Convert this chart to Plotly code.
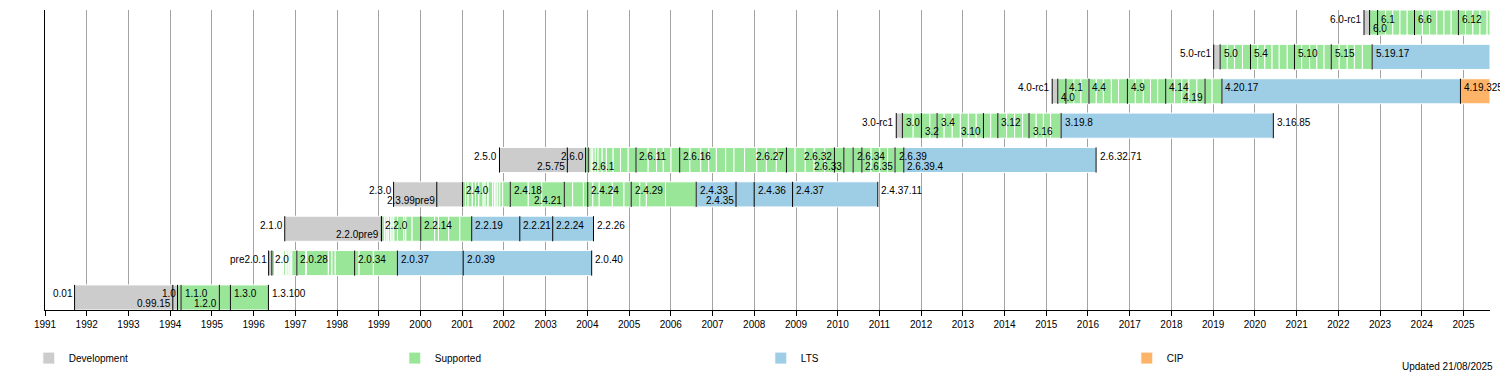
import plotly.graph_objects as go
from datetime import datetime

NOW = "2025-08-21"

# ---- rows (bottom to top) ----
ROW_NAMES = ["1.x", "2.0", "2.2", "2.4", "2.6", "3.x", "4.x", "5.x", "6.x"]

DEV_START = ["1991-09-17", "1996-05-12", "1996-09-30", "1999-05-11", "2001-11-23",
             "2011-05-29", "2015-02-22", "2019-01-06", "2022-08-14"]
DEV_END = ["1994-03-06", "1996-06-09", "1999-01-26", "2001-01-04", "2003-12-17",
           "2011-07-21", "2015-04-12", "2019-03-03", "2022-10-02"]

# supported (mainline) release dates per row
REL_1X = ["1994-03-06", "1994-04-06", "1995-03-07", "1995-06-12"]
REL_20 = ["1996-06-09", "1996-07-03", "1996-07-05", "1996-07-06", "1996-07-08", "1996-07-10",
          "1996-07-12", "1996-07-15", "1996-07-20", "1996-07-25", "1996-07-27", "1996-08-01",
          "1996-08-09", "1996-08-16", "1996-08-20", "1996-08-25", "1996-08-31", "1996-09-01",
          "1996-09-05", "1996-09-11", "1996-09-13", "1996-09-20", "1996-10-08", "1996-10-18",
          "1996-10-30", "1996-11-08", "1996-11-22", "1996-12-01", "1997-01-14", "1997-04-01",
          "1997-04-08", "1997-10-17", "1997-11-17", "1997-12-16", "1998-06-04", "1998-07-13",
          "1998-11-15"]
REL_22 = ["1999-01-26", "1999-01-28", "1999-02-22", "1999-03-08", "1999-03-23", "1999-03-28",
          "1999-04-16", "1999-04-28", "1999-05-11", "1999-05-13", "1999-06-14", "1999-08-09",
          "1999-08-26", "1999-10-20", "2000-01-04", "2000-05-04", "2000-06-07", "2000-09-04",
          "2000-12-11"]
REL_24 = ["2001-01-04", "2001-01-30", "2001-02-21", "2001-03-30", "2001-04-27", "2001-05-26",
          "2001-07-03", "2001-07-20", "2001-08-10", "2001-08-16", "2001-09-23", "2001-10-09",
          "2001-10-11", "2001-10-24", "2001-11-05", "2001-11-22", "2001-11-26", "2001-12-21",
          "2002-02-25", "2002-08-02", "2002-11-28", "2003-06-13", "2003-08-25", "2003-11-28",
          "2004-01-05", "2004-02-18", "2004-04-14", "2004-08-07", "2004-11-17", "2005-01-19",
          "2005-04-04", "2005-06-01", "2005-11-16"]
REL_26 = ["2003-12-17", "2004-01-09", "2004-02-04", "2004-02-18", "2004-03-11", "2004-04-04",
          "2004-05-10", "2004-06-16", "2004-08-14", "2004-10-18", "2004-12-24", "2005-03-02",
          "2005-06-17", "2005-08-29", "2005-10-27", "2006-01-03", "2006-03-20", "2006-06-17",
          "2006-09-20", "2006-11-29", "2007-02-04", "2007-04-26", "2007-07-08", "2007-10-09",
          "2008-01-24", "2008-04-17", "2008-07-13", "2008-10-09", "2008-12-24", "2009-03-23",
          "2009-06-09", "2009-09-09", "2009-12-03", "2010-02-24", "2010-05-16", "2010-08-01",
          "2010-10-20", "2011-01-04", "2011-03-14", "2011-05-18"]
REL_3X = ["2011-07-21", "2011-10-24", "2012-01-04", "2012-03-18", "2012-05-20", "2012-07-21",
          "2012-09-30", "2012-12-10", "2013-02-18", "2013-04-28", "2013-06-30", "2013-09-02",
          "2013-11-03", "2014-01-19", "2014-03-30", "2014-06-08", "2014-08-03", "2014-10-05",
          "2014-12-07", "2015-02-08"]
REL_4X = ["2015-04-12", "2015-06-22", "2015-08-30", "2015-11-01", "2016-01-10", "2016-03-14",
          "2016-05-15", "2016-07-24", "2016-09-25", "2016-12-11", "2017-02-19", "2017-04-30",
          "2017-07-02", "2017-09-03", "2017-11-12", "2018-01-28", "2018-04-01", "2018-06-03",
          "2018-08-12", "2018-10-22", "2018-12-23"]
REL_5X = ["2019-03-03", "2019-05-05", "2019-07-07", "2019-09-15", "2019-11-24", "2020-01-26",
          "2020-03-29", "2020-05-31", "2020-08-02", "2020-10-11", "2020-12-13", "2021-02-14",
          "2021-04-25", "2021-06-27", "2021-08-29", "2021-10-31", "2022-01-09", "2022-03-20",
          "2022-05-22", "2022-07-31"]
REL_6X = ["2022-10-02", "2022-12-11", "2023-02-19", "2023-04-23", "2023-06-25", "2023-08-27",
          "2023-10-30", "2024-01-07", "2024-03-10", "2024-05-12", "2024-07-14", "2024-09-15",
          "2024-11-17", "2025-01-19", "2025-03-24", "2025-05-25", "2025-07-27"]

SUPP_END = ["1996-05-10", "1999-06-13", "2001-03-25", "2006-08-11", "2011-08-03",
            "2015-05-11", "2019-03-19", "2022-10-24", NOW]
LTS_END = [None, "2004-02-08", "2004-02-24", "2010-12-18", "2016-03-12",
           "2020-06-11", "2024-12-05", NOW, None]
CIP_END = [None, None, None, None, None, None, NOW, None, None]

# ---- labelled releases (black markers) ----
LABEL_ROW = [0, 0, 0, 0, 0, 0, 0,
             1, 1, 1, 1, 1, 1, 1,
             2, 2, 2, 2, 2, 2, 2, 2,
             3, 3, 3, 3, 3, 3, 3, 3, 3, 3, 3, 3,
             4, 4, 4, 4, 4, 4, 4, 4, 4, 4, 4, 4, 4, 4,
             5, 5, 5, 5, 5, 5, 5, 5, 5,
             6, 6, 6, 6, 6, 6, 6, 6, 6,
             7, 7, 7, 7, 7, 7,
             8, 8, 8, 8, 8]
LABEL_DATE = ["1991-09-17", "1994-01-24", "1994-03-06", "1994-04-06", "1995-03-07", "1995-06-12", "1996-05-10",
              "1996-05-12", "1996-06-09", "1997-01-14", "1998-06-04", "1999-06-13", "2001-01-09", "2004-02-08",
              "1996-09-30", "1999-01-24", "1999-01-26", "2000-01-04", "2001-03-25", "2002-05-20", "2003-03-04", "2004-02-24",
              "1999-05-11", "2000-05-23", "2001-01-04", "2002-02-25", "2003-06-13", "2004-01-05", "2005-01-19",
              "2006-08-11", "2007-07-26", "2008-01-01", "2008-12-02", "2010-12-18",
              "2001-11-23", "2003-07-10", "2003-12-17", "2004-01-09", "2005-03-02", "2006-03-20", "2008-10-09",
              "2009-12-03", "2010-02-24", "2010-05-16", "2010-08-01", "2011-05-18", "2011-08-03", "2016-03-12",
              "2011-05-29", "2011-07-21", "2012-01-04", "2012-05-20", "2013-06-30", "2013-11-03", "2014-08-03",
              "2015-05-11", "2020-06-11",
              "2015-02-22", "2015-04-12", "2015-06-22", "2016-01-10", "2016-12-11", "2017-11-12", "2018-10-22",
              "2019-03-19", "2024-12-05",
              "2019-01-06", "2019-03-03", "2019-11-24", "2020-12-13", "2021-10-31", "2022-10-24",
              "2022-08-14", "2022-10-02", "2022-12-11", "2023-10-30", "2024-11-17"]
LABEL_TEXT = ["0.01", "0.99.15", "1.0", "1.1.0", "1.2.0", "1.3.0", "1.3.100",
              "pre2.0.1", "2.0", "2.0.28", "2.0.34", "2.0.37", "2.0.39", "2.0.40",
              "2.1.0", "2.2.0pre9", "2.2.0", "2.2.14", "2.2.19", "2.2.21", "2.2.24", "2.2.26",
              "2.3.0", "2.3.99pre9", "2.4.0", "2.4.18", "2.4.21", "2.4.24", "2.4.29",
              "2.4.33", "2.4.35", "2.4.36", "2.4.37", "2.4.37.11",
              "2.5.0", "2.5.75", "2.6.0", "2.6.1", "2.6.11", "2.6.16", "2.6.27",
              "2.6.32", "2.6.33", "2.6.34", "2.6.35", "2.6.39", "2.6.39.4", "2.6.32.71",
              "3.0-rc1", "3.0", "3.2", "3.4", "3.10", "3.12", "3.16", "3.19.8", "3.16.85",
              "4.0-rc1", "4.0", "4.1", "4.4", "4.9", "4.14", "4.19", "4.20.17", "4.19.325",
              "5.0-rc1", "5.0", "5.4", "5.10", "5.15", "5.19.17",
              "6.0-rc1", "6.0", "6.1", "6.6", "6.12"]
# side: 'r' = text to the right of the marker, 'l' = text to the left
LABEL_SIDE = ["l", "l", "l", "r", "l", "r", "r",
              "l", "r", "r", "r", "r", "r", "r",
              "l", "l", "r", "r", "r", "r", "r", "r",
              "l", "l", "r", "r", "l", "r", "r", "r", "l", "r", "r", "r",
              "l", "l", "l", "r", "r", "r", "l", "l", "l", "r", "r", "r", "r", "r",
              "l", "r", "r", "r", "l", "r", "r", "r", "r",
              "l", "r", "r", "r", "r", "r", "l", "r", "r",
              "l", "r", "r", "r", "r", "r",
              "l", "r", "r", "r", "r"]
# level: 't' = upper line, 'b' = lower line
LABEL_LEVEL = ["t", "b", "t", "t", "b", "t", "t",
               "t", "t", "t", "t", "t", "t", "t",
               "t", "b", "t", "t", "t", "t", "t", "t",
               "t", "b", "t", "t", "b", "t", "t", "t", "b", "t", "t", "t",
               "t", "b", "t", "b", "t", "t", "t", "t", "b", "t", "b", "t", "b", "t",
               "t", "t", "b", "t", "b", "t", "b", "t", "t",
               "t", "b", "t", "t", "t", "t", "b", "t", "t",
               "t", "t", "t", "t", "t", "t",
               "t", "b", "t", "t", "t"]

CATEGORIES = ["Development", "Supported", "LTS", "CIP"]
COLORS = ["#cccccc", "#99e699", "#9ecde6", "#fdb468"]

FONT = "Liberation Sans, Arial, Helvetica, sans-serif"
BAR_W = 0.73


def ms(a, b):
    return (datetime.fromisoformat(b) - datetime.fromisoformat(a)).total_seconds() * 1000.0


REL_ROWS = [REL_1X, REL_20, REL_22, REL_24, REL_26, REL_3X, REL_4X, REL_5X, REL_6X]

segs = {c: {"base": [], "x": [], "y": []} for c in CATEGORIES}
for i in range(len(ROW_NAMES)):
    segs["Development"]["base"].append(DEV_START[i])
    segs["Development"]["x"].append(ms(DEV_START[i], DEV_END[i]))
    segs["Development"]["y"].append(i)
    pts = REL_ROWS[i] + [SUPP_END[i]]
    for a, b in zip(pts[:-1], pts[1:]):
        segs["Supported"]["base"].append(a)
        segs["Supported"]["x"].append(ms(a, b))
        segs["Supported"]["y"].append(i)
    if LTS_END[i]:
        segs["LTS"]["base"].append(SUPP_END[i])
        segs["LTS"]["x"].append(ms(SUPP_END[i], LTS_END[i]))
        segs["LTS"]["y"].append(i)
    if CIP_END[i]:
        segs["CIP"]["base"].append(LTS_END[i])
        segs["CIP"]["x"].append(ms(LTS_END[i], CIP_END[i]))
        segs["CIP"]["y"].append(i)

fig = go.Figure()
for c, col in zip(CATEGORIES, COLORS):
    fig.add_trace(go.Bar(
        name=c, orientation="h", base=segs[c]["base"], x=segs[c]["x"], y=segs[c]["y"],
        width=BAR_W, marker=dict(color=col, line=dict(color="white", width=1)),
        hoverinfo="skip",
    ))

# black markers for labelled releases
lx, ly = [], []
for r, d in zip(LABEL_ROW, LABEL_DATE):
    lx += [d, d, None]
    ly += [r - BAR_W / 2, r + BAR_W / 2, None]
fig.add_trace(go.Scatter(x=lx, y=ly, mode="lines", line=dict(color="black", width=1),
                         showlegend=False, hoverinfo="skip"))

annotations = []
for r, d, t, s, lv in zip(LABEL_ROW, LABEL_DATE, LABEL_TEXT, LABEL_SIDE, LABEL_LEVEL):
    annotations.append(dict(
        x=d, y=r, xref="x", yref="y", text=t, showarrow=False,
        xanchor="left" if s == "r" else "right",
        xshift=1.5 if s == "r" else 0.0,
        yanchor="middle", yshift=3.5 if lv == "t" else -6.0,
        font=dict(size=10, color="black", family=FONT),
    ))
annotations.append(dict(
    x=1.0, y=-0.187, xref="paper", yref="paper", text="Updated 21/08/2025", showarrow=False,
    xanchor="right", yanchor="middle", xshift=5,
    font=dict(size=10, color="black", family=FONT),
))

fig.update_layout(
    width=1500, height=375,
    margin=dict(l=45, r=10, t=10, b=65, autoexpand=False),
    paper_bgcolor="white", plot_bgcolor="white",
    barmode="overlay",
    font=dict(family=FONT, size=10, color="black"),
    annotations=annotations,
    showlegend=True,
    hovermode=False,
    legend=dict(orientation="h", x=-0.0112, xanchor="left", y=-0.112, yanchor="top",
                entrywidth=321, entrywidthmode="pixels", font=dict(size=10, family=FONT),
                bgcolor="rgba(0,0,0,0)", traceorder="normal"),
    xaxis=dict(type="date", range=["1991-01-01", NOW], dtick="M12", tick0="1991-01-01",
               tickformat="%Y", showgrid=True, gridcolor="#a3a3a3", gridwidth=1,
               showline=True, linecolor="black", linewidth=1, ticks="outside", ticklen=5,
               tickcolor="black", tickfont=dict(size=10, color="black", family=FONT),
               zeroline=False, fixedrange=True),
    yaxis=dict(range=[-BAR_W / 2, len(ROW_NAMES) - 1 + BAR_W / 2], showticklabels=False,
               showgrid=False, zeroline=False, showline=True, linecolor="black", linewidth=1,
               ticks="", fixedrange=True),
)

fig.write_html("out.html", config={"displayModeBar": False, "staticPlot": True},
               post_script="document.body.style.margin='0';")
